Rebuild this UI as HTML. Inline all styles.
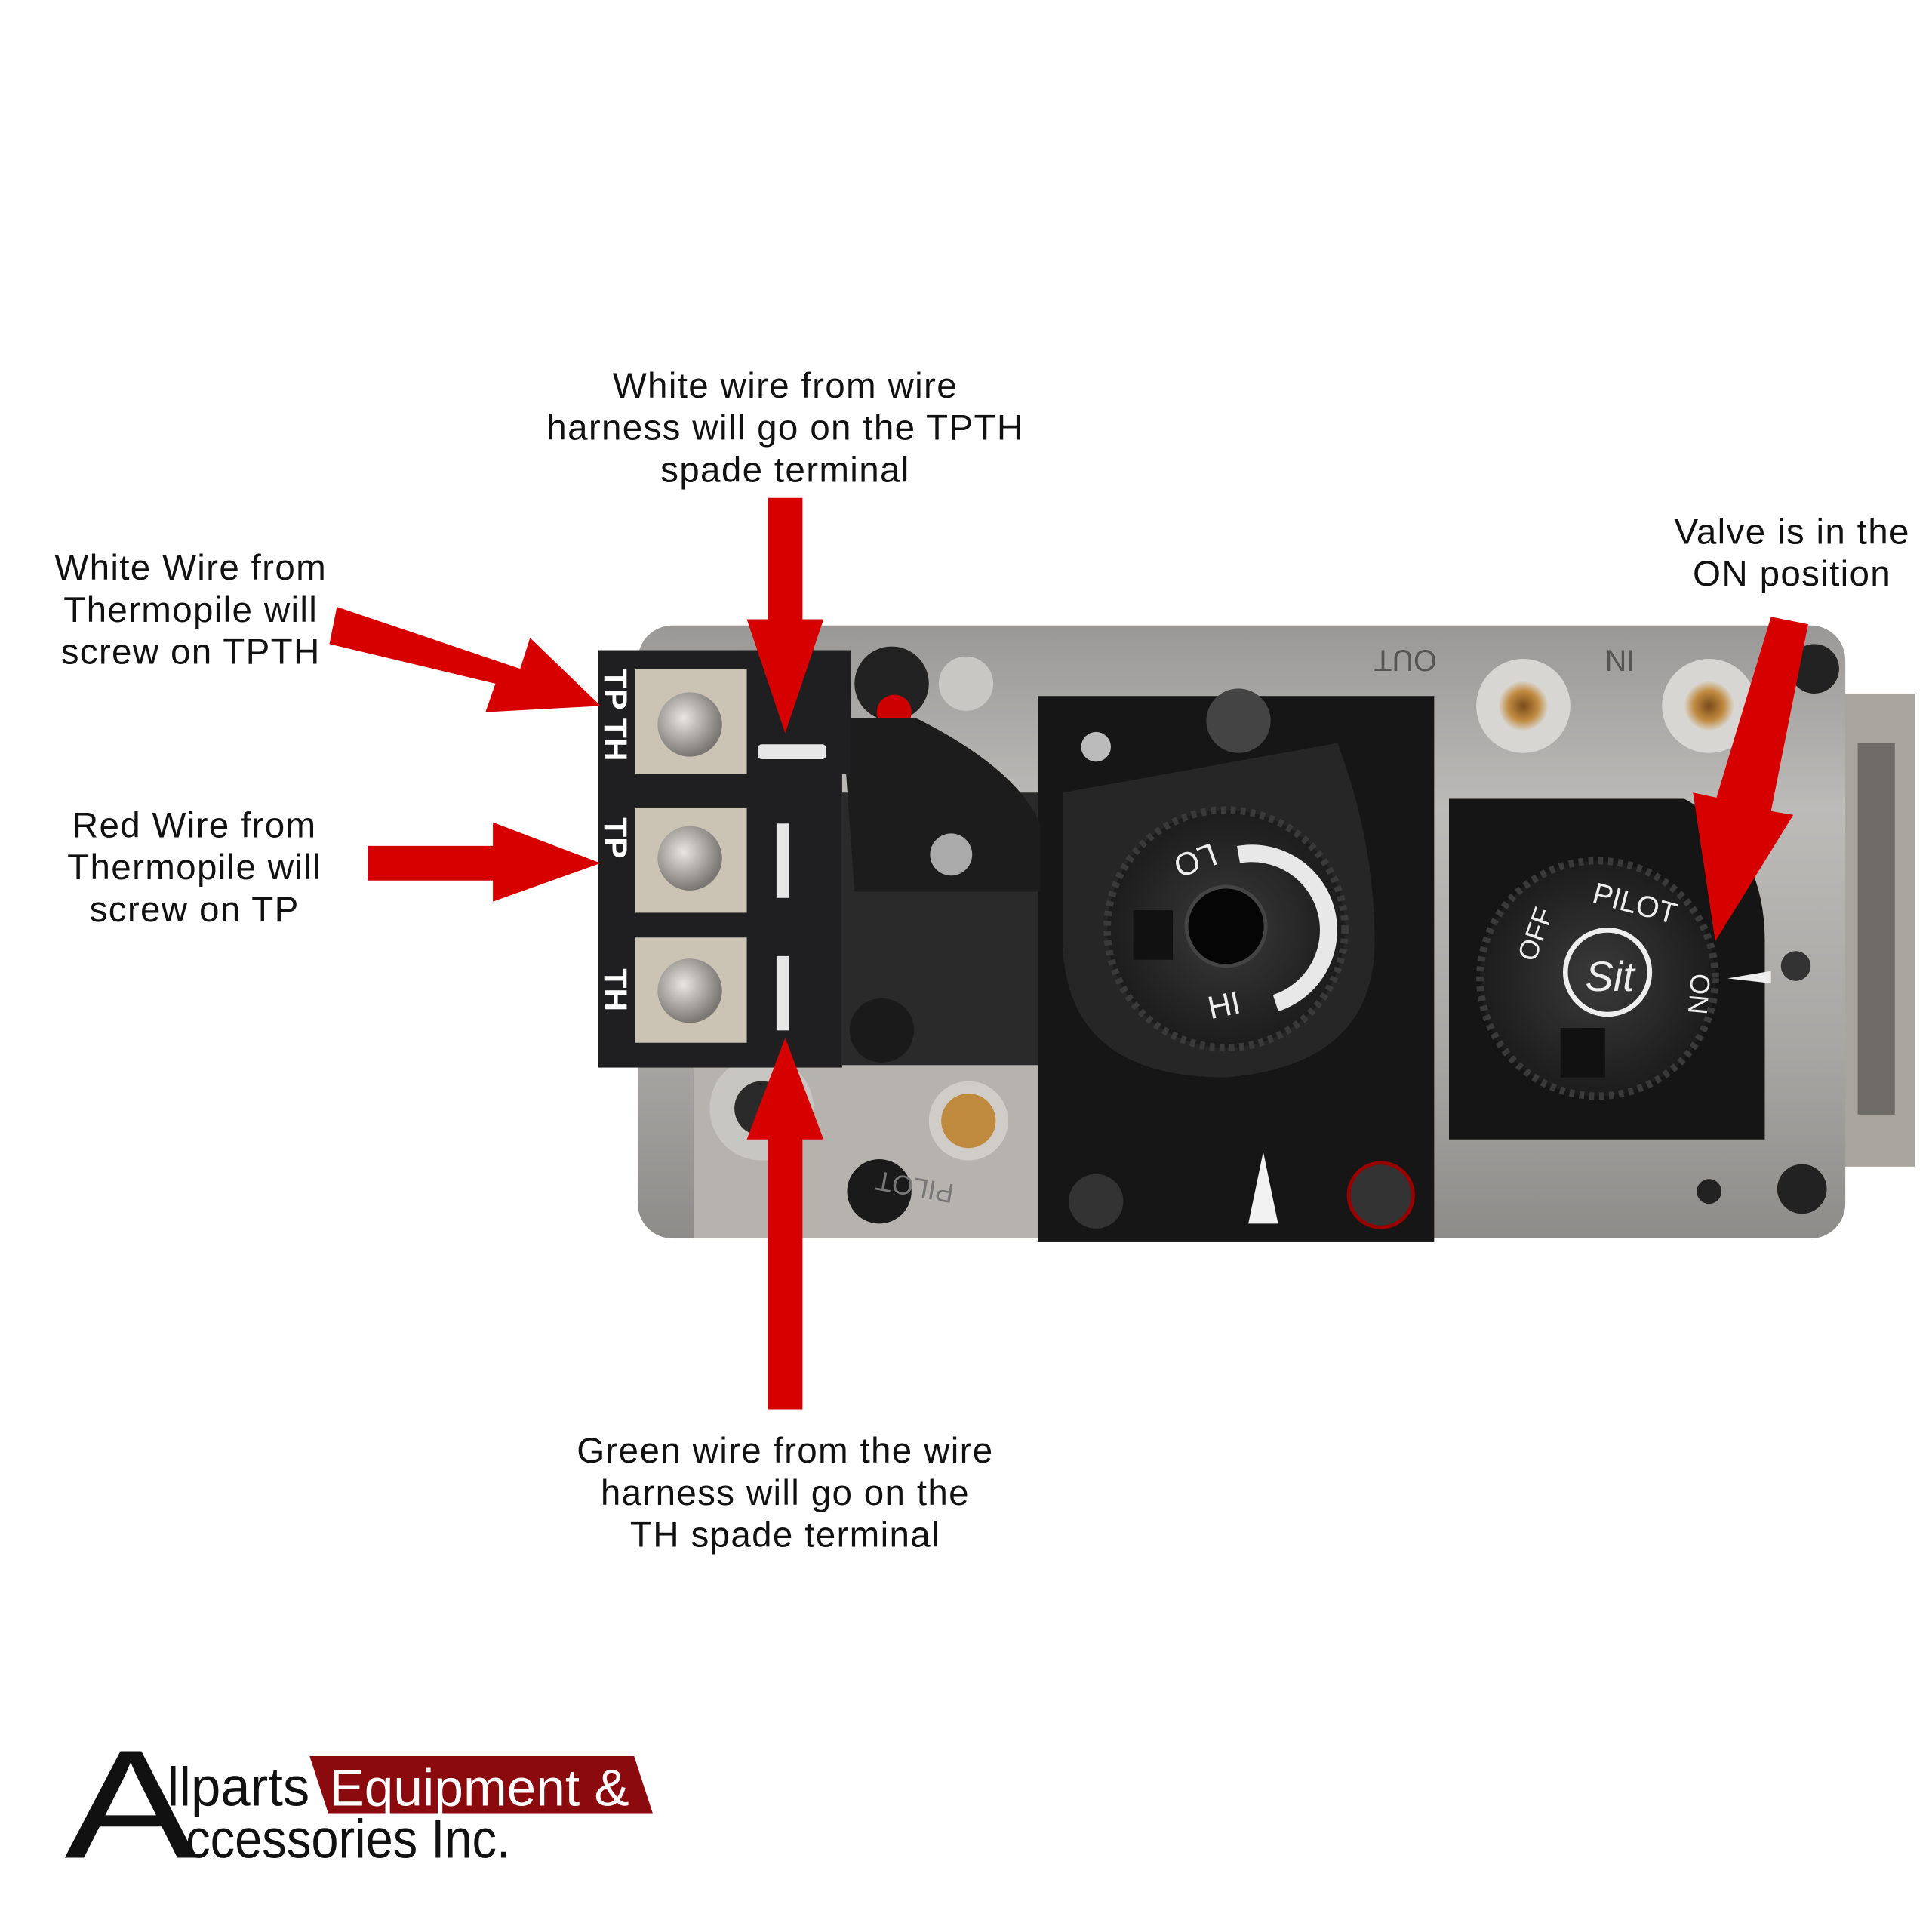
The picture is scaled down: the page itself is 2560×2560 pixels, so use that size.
<!DOCTYPE html>
<html><head><meta charset="utf-8"><style>
html,body{margin:0;padding:0;background:#fff}
svg{display:block}
text{font-family:"Liberation Sans",sans-serif}
</style></head><body>
<svg width="2560" height="2560" viewBox="0 0 1560 1560" xmlns="http://www.w3.org/2000/svg">
<defs>
<linearGradient id="metal" x1="0" y1="0" x2="0" y2="1">
<stop offset="0" stop-color="#9a9896"/><stop offset="0.3" stop-color="#bdbbb8"/><stop offset="0.7" stop-color="#a8a6a3"/><stop offset="1" stop-color="#8e8c89"/></linearGradient>
<radialGradient id="knob" cx="0.5" cy="0.5" r="0.5"><stop offset="0" stop-color="#3a3a3a"/><stop offset="1" stop-color="#1c1c1c"/></radialGradient>
<radialGradient id="screw" cx="0.4" cy="0.4" r="0.6"><stop offset="0" stop-color="#e8e6e2"/><stop offset="1" stop-color="#7a7772"/></radialGradient>
<radialGradient id="brass" cx="0.5" cy="0.5" r="0.5"><stop offset="0" stop-color="#7a4a1a"/><stop offset="0.6" stop-color="#c08a40"/><stop offset="1" stop-color="#d8d4cc"/></radialGradient>
</defs>
<rect width="1560" height="1560" fill="#fff"/>
<rect x="1480" y="560" width="66" height="382" fill="#a9a49d"/>
<rect x="1500" y="600" width="30" height="300" fill="#6f6b66"/>
<rect x="515" y="505" width="975" height="495" rx="28" fill="url(#metal)"/>
<rect x="560" y="860" width="280" height="140" fill="#b6b3ae"/>
<rect x="680" y="640" width="160" height="220" fill="#2a2a2a"/>
<circle cx="1230" cy="570" r="38" fill="#d8d6d2"/><circle cx="1230" cy="570" r="20" fill="url(#brass)"/>
<circle cx="1380" cy="570" r="38" fill="#d8d6d2"/><circle cx="1380" cy="570" r="20" fill="url(#brass)"/>
<text x="1160" y="535" font-size="24" fill="#555" transform="rotate(180 1160 530)">OUT</text>
<text x="1320" y="535" font-size="24" fill="#555" transform="rotate(180 1320 530)">IN</text>
<circle cx="720" cy="552" r="30" fill="#222"/><circle cx="722" cy="575" r="14" fill="#c00"/>
<circle cx="780" cy="552" r="22" fill="#c9c7c3"/>
<circle cx="1465" cy="540" r="20" fill="#222"/>
<rect x="838" y="562" width="320" height="441" fill="#161616"/>
<circle cx="1000" cy="582" r="26" fill="#444"/>
<circle cx="885" cy="603" r="12" fill="#bbb"/>
<path d="M858 640 L1080 600 Q1110 680 1110 760 Q1110 860 990 870 Q860 870 858 760 Z" fill="#262626"/>
<circle cx="990" cy="750" r="96" fill="url(#knob)" stroke="#3a3a3a" stroke-width="6" stroke-dasharray="4 4"/>
<path d="M1000 690 A62 62 0 0 1 1030 810" stroke="#e8e8e8" stroke-width="14" fill="none"/>
<circle cx="990" cy="748" r="32" fill="#050505" stroke="#444" stroke-width="3"/>
<text x="958" y="700" font-size="26" fill="#eee" transform="rotate(160 970 692)">LO</text>
<text x="975" y="820" font-size="26" fill="#eee" transform="rotate(-12 990 810)">HI</text>
<rect x="915" y="735" width="32" height="40" fill="#111"/>
<path d="M1008 988 L1020 930 L1032 988 Z" fill="#f2f2f2"/>
<circle cx="885" cy="970" r="22" fill="#333"/>
<circle cx="1115" cy="965" r="26" fill="#333" stroke="#900" stroke-width="3"/>
<path d="M1170 645 L1360 645 Q1425 680 1425 760 L1425 920 L1170 920 Z" fill="#151515"/>
<circle cx="1290" cy="790" r="95" fill="url(#knob)" stroke="#3a3a3a" stroke-width="6" stroke-dasharray="4 4"/>
<circle cx="1298" cy="785" r="34" fill="none" stroke="#eee" stroke-width="4"/>
<text x="1280" y="800" font-size="34" font-style="italic" fill="#eee">Sit</text>
<text x="1285" y="735" font-size="24" fill="#eee" transform="rotate(15 1310 730)">PILOT</text>
<text x="1220" y="770" font-size="22" fill="#eee" transform="rotate(-70 1235 760)">OFF</text>
<text x="1350" y="790" font-size="22" fill="#eee" transform="rotate(95 1360 795)">ON</text>
<rect x="1260" y="830" width="36" height="40" fill="#111"/>
<path d="M1395 790 L1430 784 L1430 794 Z" fill="#eee"/>
<circle cx="1450" cy="780" r="12" fill="#333"/>
<circle cx="1455" cy="960" r="20" fill="#222"/><circle cx="1380" cy="962" r="10" fill="#222"/>
<circle cx="615" cy="895" r="42" fill="#c8c6c2"/><circle cx="615" cy="895" r="22" fill="#2a2a2a"/>
<circle cx="782" cy="905" r="32" fill="#d0cdc8"/><circle cx="782" cy="905" r="22" fill="#c08a3e"/>
<circle cx="710" cy="962" r="26" fill="#1a1a1a"/>
<circle cx="712" cy="832" r="26" fill="#1a1a1a"/>
<text x="810" y="970" font-size="22" fill="#777" transform="rotate(190 790 965)">PILOT</text>
<path d="M680 580 L740 580 Q820 620 840 665 L840 720 L690 720 Z" fill="#1c1c1c"/>
<circle cx="768" cy="690" r="17" fill="#aaa"/>
<rect x="483" y="525" width="197" height="337" fill="#1f1f21"/>
<rect x="597" y="525" width="90" height="100" fill="#1f1f21"/>
<rect x="513" y="540" width="90" height="85" fill="#cbc3b4"/>
<rect x="513" y="652" width="90" height="85" fill="#cbc3b4"/>
<rect x="513" y="757" width="90" height="85" fill="#cbc3b4"/>
<circle cx="557" cy="585" r="26" fill="url(#screw)"/><circle cx="557" cy="693" r="26" fill="url(#screw)"/><circle cx="557" cy="800" r="26" fill="url(#screw)"/>
<rect x="612" y="601" width="55" height="12" rx="3" fill="#e6e6e6"/>
<rect x="627" y="665" width="10" height="60" fill="#e6e6e6"/>
<rect x="627" y="772" width="10" height="60" fill="#e6e6e6"/>
<g font-size="26" font-weight="bold" fill="#fff">
<text x="0" y="0" transform="translate(488 540) rotate(90)">TP TH</text>
<text x="0" y="0" transform="translate(488 660) rotate(90)">TP</text>
<text x="0" y="0" transform="translate(488 782) rotate(90)">TH</text>
</g>
<g fill="#d70000">
<path d="M272 490 L420 540 L428 515 L485 570 L392 575 L400 552 L266 520 Z"/>
<path d="M297 683 L398 683 L398 664 L485 697 L398 728 L398 711 L297 711 Z"/>
<path d="M620 402 L648 402 L648 500 L665 500 L634 592 L603 500 L620 500 Z"/>
<path d="M620 1138 L648 1138 L648 920 L665 920 L634 838 L603 920 L620 920 Z"/>
<path d="M1430 498 L1460 504 L1430 655 L1448 658 L1385 760 L1367 640 L1386 644 Z"/>
</g>
<g font-size="29" fill="#111" text-anchor="middle" letter-spacing="0.8">
<text x="634" y="321">White wire from wire</text>
<text x="634" y="355">harness will go on the TPTH</text>
<text x="634" y="389">spade terminal</text>
<text x="154" y="468">White Wire from</text>
<text x="154" y="502">Thermopile will</text>
<text x="154" y="536">screw on TPTH</text>
<text x="157" y="676">Red Wire from</text>
<text x="157" y="710">Thermopile will</text>
<text x="157" y="744">screw on TP</text>
<text x="634" y="1181">Green wire from the wire</text>
<text x="634" y="1215">harness will go on the</text>
<text x="634" y="1249">TH spade terminal</text>
<text x="1447" y="439">Valve is in the</text>
<text x="1447" y="473">ON position</text>
</g>
<path d="M250 1418 L512 1418 L527 1464 L265 1464 Z" fill="#8a0a0e"/>
<text x="52" y="1500" font-size="160" fill="#111" transform="scale(1 0.78) translate(0 423)">A</text>
<text x="135" y="1458" font-size="44" fill="#111" textLength="115" lengthAdjust="spacingAndGlyphs">llparts</text>
<text x="266" y="1458" font-size="42" fill="#fff" textLength="242" lengthAdjust="spacingAndGlyphs">Equipment &amp;</text>
<text x="150" y="1500" font-size="44" fill="#111" textLength="262" lengthAdjust="spacingAndGlyphs">ccessories Inc.</text>
</svg>
</body></html>
